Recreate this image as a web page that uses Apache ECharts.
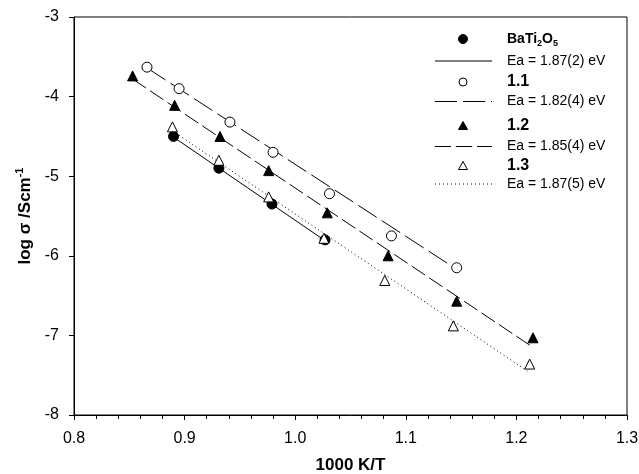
<!DOCTYPE html>
<html>
<head>
<meta charset="utf-8">
<script src="https://cdn.jsdelivr.net/npm/echarts@6/dist/echarts.min.js"></script>
<style>
  html, body { margin: 0; padding: 0; background: #fff; }
  #chart { width: 639px; height: 474px; }
</style>
</head>
<body>
<div id="chart"></div>
<script>
// Measured conductivity, log sigma vs 1000/T
const baX = [0.890, 0.931, 0.979, 1.027];
const baY = [-4.50, -4.90, -5.35, -5.80];
const s11X = [0.866, 0.895, 0.941, 0.980, 1.031, 1.087, 1.146];
const s11Y = [-3.63, -3.90, -4.32, -4.70, -5.22, -5.75, -6.15];
const s12X = [0.853, 0.891, 0.932, 0.976, 1.029, 1.084, 1.146, 1.215];
const s12Y = [-3.74, -4.11, -4.50, -4.93, -5.46, -6.00, -6.57, -7.03];
const s13X = [0.889, 0.931, 0.976, 1.026, 1.081, 1.143, 1.212];
const s13Y = [-4.38, -4.80, -5.26, -5.78, -6.31, -6.88, -7.36];

// Arrhenius fit lines (end points)
const fitBaX = [0.889, 1.027];
const fitBaY = [-4.50, -5.81];
const fit11X = [0.866, 1.146];
const fit11Y = [-3.64, -6.17];
const fit12X = [0.853, 1.215];
const fit12Y = [-3.78, -7.15];
const fit13X = [0.889, 1.210];
const fit13Y = [-4.43, -7.45];

const xTicks = [0.8, 0.9, 1.0, 1.1, 1.2, 1.3];
const yTicks = [-8, -7, -6, -5, -4, -3];

const legendNames = ['BaTi2O5', '1.1', '1.2', '1.3'];
const legendEa = ['Ea = 1.87(2) eV', 'Ea = 1.82(4) eV', 'Ea = 1.85(4) eV', 'Ea = 1.87(5) eV'];

const FONT = '"Liberation Sans", Arial, Helvetica, sans-serif';
const INK = '#000';

const pairs = (xs, ys) => xs.map((x, i) => [x, ys[i]]);

function pointSeries(name, xs, ys, symbol, filled) {
  return {
    name, type: 'scatter', data: pairs(xs, ys), symbol, symbolSize: 10,
    itemStyle: { color: filled ? INK : '#fff', borderColor: INK, borderWidth: 1, opacity: 1 },
    z: 5
  };
}
function fitSeries(name, xs, ys, dash) {
  return {
    name, type: 'line', data: pairs(xs, ys), symbol: 'none',
    lineStyle: { color: INK, width: 1, type: dash },
    z: 3
  };
}

const chart = echarts.init(document.getElementById('chart'), null, { renderer: 'canvas' });

// legend block drawn as graphic elements
const legX = 463, lineX0 = 435, lineX1 = 492, textX = 507;
const rowsY = [39, 61, 82, 101.5, 126, 146.5, 166, 184];
const legendGraphics = [];
const markerDefs = [
  { type: 'circle', filled: true },
  { type: 'circle', filled: false },
  { type: 'tri', filled: true },
  { type: 'tri', filled: false }
];
const dashes = [null, [22, 6], [16, 5], [1, 3]];
for (let i = 0; i < 4; i++) {
  const my = rowsY[2 * i], ly = rowsY[2 * i + 1];
  const m = markerDefs[i];
  if (m.type === 'circle') {
    legendGraphics.push({ type: 'circle', shape: { cx: legX, cy: my, r: m.filled ? 4.5 : 4 },
      style: { fill: m.filled ? INK : '#fff', stroke: INK, lineWidth: 1 } });
  } else {
    legendGraphics.push({ type: 'polygon', shape: { points: [[legX, my - 4.5], [legX + 4.5, my + 3.5], [legX - 4.5, my + 3.5]] },
      style: { fill: m.filled ? INK : '#fff', stroke: INK, lineWidth: 1 } });
  }
  const nameText = i === 0 ? '{b|BaTi}{s|2}{b|O}{s|5}' : '{bb|' + legendNames[i] + '}';
  legendGraphics.push({ type: 'text', x: textX, y: my, style: {
    text: nameText, verticalAlign: 'middle', fill: INK, fontFamily: FONT,
    rich: {
      b: { fontSize: 14, fontWeight: 'bold', fontFamily: FONT, fill: INK },
      bb: { fontSize: 16, fontWeight: 'bold', fontFamily: FONT, fill: INK },
      s: { fontSize: 9, fontWeight: 'bold', fontFamily: FONT, fill: INK, padding: [9, 0, 0, 0] }
    } } });
  legendGraphics.push({ type: 'line', shape: { x1: lineX0, y1: ly, x2: lineX1, y2: ly },
    style: { stroke: INK, lineWidth: 1, lineDash: dashes[i] } });
  legendGraphics.push({ type: 'text', x: textX, y: ly, style: {
    text: legendEa[i], verticalAlign: 'middle', fill: INK, fontFamily: FONT, fontSize: 14 } });
}

chart.setOption({
  animation: false,
  backgroundColor: '#fff',
  grid: { left: 74, right: 12, top: 17, bottom: 59, show: true, borderColor: INK, borderWidth: 1,
    containLabel: false, outerBoundsMode: 'none' },
  xAxis: {
    type: 'value', min: xTicks[0], max: xTicks[xTicks.length - 1], interval: 0.1,
    name: '1000 K/T', nameLocation: 'middle', nameGap: 42,
    nameTextStyle: { fontFamily: FONT, fontSize: 17, fontWeight: 'bold', color: INK },
    axisLine: { lineStyle: { color: INK, width: 1 } },
    axisTick: { show: true, inside: false, length: 5, lineStyle: { color: INK } },
    minorTick: { show: true, splitNumber: 5, length: 4, lineStyle: { color: INK } },
    axisLabel: { fontFamily: FONT, fontSize: 16, color: INK, margin: 16,
      formatter: v => v.toFixed(1) },
    splitLine: { show: false }
  },
  yAxis: {
    type: 'value', min: yTicks[0], max: yTicks[yTicks.length - 1], interval: 1,
    name: '{m|log σ /Scm}{sup|-1}', nameLocation: 'middle', nameGap: 38,
    nameTextStyle: {
      fontFamily: FONT, fontSize: 17, fontWeight: 'bold', color: INK,
      rich: {
        m: { fontFamily: FONT, fontSize: 17, fontWeight: 'bold', color: INK },
        sup: { fontFamily: FONT, fontSize: 11, fontWeight: 'bold', color: INK, padding: [0, 0, 10, 0] }
      }
    },
    axisLine: { show: true, lineStyle: { color: INK, width: 1 } },
    axisTick: { show: true, inside: false, length: 5, lineStyle: { color: INK } },
    axisLabel: { fontFamily: FONT, fontSize: 16, color: INK, margin: 15 },
    splitLine: { show: false }
  },
  series: [
    fitSeries('fitBa', fitBaX, fitBaY, 'solid'),
    fitSeries('fit11', fit11X, fit11Y, [22, 6]),
    fitSeries('fit12', fit12X, fit12Y, [16, 5]),
    fitSeries('fit13', fit13X, fit13Y, [1, 3]),
    pointSeries('BaTi2O5', baX, baY, 'circle', true),
    pointSeries('1.1', s11X, s11Y, 'circle', false),
    pointSeries('1.2', s12X, s12Y, 'triangle', true),
    pointSeries('1.3', s13X, s13Y, 'triangle', false)
  ],
  graphic: legendGraphics
});
</script>
</body>
</html>
